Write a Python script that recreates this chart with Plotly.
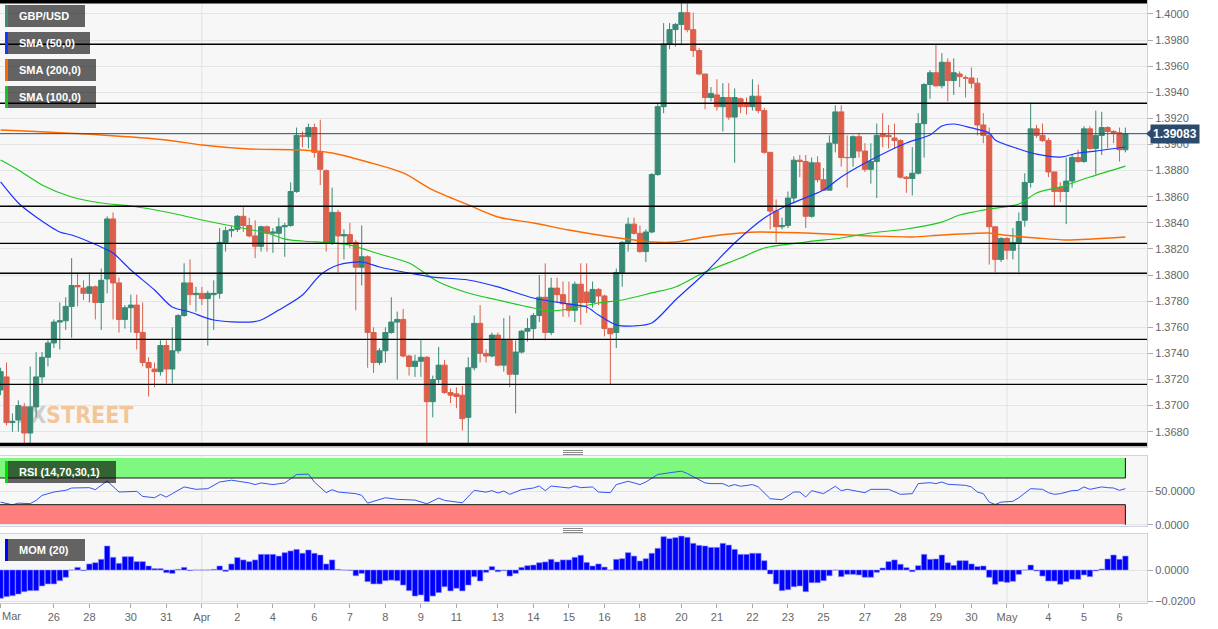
import plotly.graph_objects as go
from plotly.subplots import make_subplots

# ---------------- data (4-hour candles, index = candle number) ----------------
open_ = [1.3712,1.3722,1.3687,1.3689,1.3699,1.3679,1.3699,1.3722,1.3737,1.3748,
1.3764,1.3765,1.3776,1.3792,1.3790,1.3786,1.3791,1.3779,1.3797,1.3843,
1.3794,1.3766,1.3775,1.3777,1.3756,1.3733,1.3728,1.3726,1.3746,1.3728,
1.3742,1.3769,1.3794,1.3785,1.3786,1.3782,1.3785,1.3786,1.3825,1.3834,
1.3835,1.3845,1.3838,1.3830,1.3822,1.3837,1.3832,1.3832,1.3837,1.3838,
1.3864,1.3907,1.3906,1.3913,1.3894,1.3880,1.3825,1.3848,1.3830,1.3831,
1.3825,1.3806,1.3814,1.3756,1.3733,1.3742,1.3756,1.3764,1.3766,1.3738,
1.3730,1.3734,1.3737,1.3703,1.3720,1.3731,1.3710,1.3709,1.3708,1.3691,
1.3729,1.3763,1.3740,1.3738,1.3754,1.3731,1.3750,1.3724,1.3741,1.3757,
1.3759,1.3769,1.3783,1.3756,1.3790,1.3785,1.3778,1.3773,1.3793,1.3787,
1.3779,1.3789,1.3784,1.3759,1.3756,1.3802,1.3825,1.3839,1.3832,1.3818,
1.3833,1.3877,1.3929,1.3977,1.3988,1.3992,1.4001,1.3988,1.3972,1.3954,
1.3936,1.3938,1.3929,1.3936,1.3921,1.3935,1.3932,1.3929,1.3937,1.3926,
1.3894,1.3849,1.3837,1.3838,1.3859,1.3888,1.3887,1.3845,1.3886,1.3873,
1.3865,1.3901,1.3925,1.3890,1.3890,1.3906,1.3895,1.3881,1.3887,1.3908,
1.3907,1.3905,1.3903,1.3875,1.3874,1.3878,1.3916,1.3946,1.3955,1.3945,
1.3963,1.3949,1.3954,1.3951,1.3951,1.3947,1.3915,1.3907,1.3837,1.3812,
1.3828,1.3819,1.3825,1.3842,1.3871,1.3912,1.3907,1.3903,1.3879,1.3867,
1.3864,1.3872,1.3890,1.3887,1.3912,1.3897,1.3907,1.3913,1.3910,1.3909,
1.3896]

high = [1.3729,1.3733,1.3694,1.3704,1.3702,1.3730,1.3741,1.3741,1.3750,1.3766,
1.3779,1.3783,1.3813,1.3802,1.3796,1.3802,1.3792,1.3805,1.3845,1.3848,
1.3798,1.3777,1.3785,1.3785,1.3779,1.3737,1.3733,1.3750,1.3750,1.3760,
1.3770,1.3809,1.3812,1.3791,1.3791,1.3788,1.3796,1.3836,1.3837,1.3838,
1.3846,1.3852,1.3844,1.3842,1.3838,1.3838,1.3836,1.3844,1.3840,1.3871,
1.3913,1.3910,1.3916,1.3916,1.3919,1.3881,1.3867,1.3850,1.3835,1.3840,
1.3827,1.3838,1.3815,1.3760,1.3744,1.3760,1.3783,1.3772,1.3774,1.3739,
1.3739,1.3751,1.3738,1.3723,1.3745,1.3735,1.3713,1.3714,1.3715,1.3737,
1.3769,1.3777,1.3743,1.3756,1.3756,1.3767,1.3769,1.3750,1.3758,1.3767,
1.3771,1.3800,1.3809,1.3798,1.3798,1.3795,1.3795,1.3795,1.3809,1.3809,
1.3795,1.3790,1.3785,1.3759,1.3805,1.3826,1.3844,1.3844,1.3838,1.3835,
1.3878,1.3931,1.3993,1.3993,1.3993,1.4009,1.4008,1.4001,1.3974,1.3954,
1.3944,1.3950,1.3947,1.3947,1.3943,1.3936,1.3936,1.3950,1.3946,1.3928,
1.3894,1.3858,1.3844,1.3864,1.3891,1.3892,1.3892,1.3890,1.3891,1.3882,
1.3907,1.3930,1.3930,1.3907,1.3907,1.3909,1.3901,1.3901,1.3916,1.3924,
1.3915,1.3916,1.3904,1.3876,1.3898,1.3924,1.3947,1.3957,1.3977,1.3970,
1.3966,1.3966,1.3956,1.3953,1.3959,1.3951,1.3924,1.3913,1.3837,1.3829,
1.3829,1.3836,1.3848,1.3878,1.3932,1.3915,1.3916,1.3905,1.3879,1.3871,
1.3890,1.3892,1.3896,1.3914,1.3914,1.3926,1.3925,1.3914,1.3911,1.3913,
1.3913]

low = [1.3708,1.3685,1.3680,1.3680,1.3671,1.3671,1.3691,1.3717,1.3730,1.3744,
1.3743,1.3758,1.3752,1.3776,1.3781,1.3779,1.3766,1.3758,1.3786,1.3766,
1.3756,1.3759,1.3756,1.3743,1.3730,1.3707,1.3714,1.3723,1.3717,1.3717,
1.3740,1.3768,1.3777,1.3772,1.3777,1.3746,1.3758,1.3782,1.3818,1.3829,
1.3833,1.3833,1.3829,1.3813,1.3818,1.3818,1.3817,1.3825,1.3814,1.3837,
1.3863,1.3898,1.3897,1.3890,1.3869,1.3818,1.3823,1.3802,1.3812,1.3821,
1.3773,1.3792,1.3729,1.3725,1.3731,1.3733,1.3755,1.3720,1.3737,1.3723,
1.3722,1.3722,1.3671,1.3691,1.3717,1.3709,1.3702,1.3698,1.3681,1.3671,
1.3727,1.3733,1.3733,1.3737,1.3730,1.3726,1.3714,1.3694,1.3740,1.3749,
1.3750,1.3764,1.3750,1.3754,1.3779,1.3768,1.3768,1.3764,1.3762,1.3771,
1.3775,1.3777,1.3753,1.3716,1.3744,1.3791,1.3818,1.3831,1.3817,1.3810,
1.3832,1.3876,1.3924,1.3973,1.3975,1.3976,1.3986,1.3967,1.3953,1.3927,
1.3933,1.3926,1.3910,1.3919,1.3886,1.3924,1.3923,1.3926,1.3924,1.3893,
1.3835,1.3825,1.3835,1.3836,1.3855,1.3875,1.3836,1.3844,1.3871,1.3865,
1.3865,1.3894,1.3883,1.3867,1.3883,1.3890,1.3879,1.3870,1.3859,1.3898,
1.3897,1.3897,1.3874,1.3863,1.3861,1.3877,1.3890,1.3935,1.3944,1.3943,
1.3933,1.3938,1.3944,1.3936,1.3943,1.3907,1.3901,1.3808,1.3802,1.3810,
1.3812,1.3812,1.3802,1.3837,1.3867,1.3905,1.3902,1.3875,1.3852,1.3856,
1.3839,1.3867,1.3886,1.3886,1.3896,1.3877,1.3892,1.3897,1.3901,1.3887,
1.3894]

close = [1.3726,1.3687,1.3688,1.3700,1.3679,1.3699,1.3722,1.3737,1.3748,1.3764,
1.3765,1.3776,1.3792,1.3791,1.3786,1.3791,1.3779,1.3796,1.3843,1.3794,
1.3766,1.3775,1.3777,1.3756,1.3733,1.3729,1.3726,1.3746,1.3728,1.3742,
1.3769,1.3794,1.3785,1.3786,1.3782,1.3786,1.3786,1.3825,1.3834,1.3835,
1.3845,1.3838,1.3830,1.3822,1.3837,1.3832,1.3833,1.3837,1.3838,1.3864,
1.3907,1.3906,1.3913,1.3894,1.3881,1.3825,1.3848,1.3830,1.3831,1.3825,
1.3806,1.3814,1.3756,1.3733,1.3742,1.3756,1.3764,1.3766,1.3738,1.3730,
1.3734,1.3737,1.3703,1.3720,1.3731,1.3710,1.3708,1.3707,1.3690,1.3729,
1.3763,1.3740,1.3738,1.3754,1.3731,1.3750,1.3724,1.3741,1.3757,1.3759,
1.3769,1.3783,1.3756,1.3790,1.3785,1.3778,1.3773,1.3793,1.3779,1.3779,
1.3789,1.3784,1.3759,1.3755,1.3802,1.3825,1.3839,1.3832,1.3818,1.3833,
1.3877,1.3929,1.3977,1.3988,1.3992,1.4001,1.3988,1.3972,1.3954,1.3936,
1.3939,1.3929,1.3936,1.3921,1.3936,1.3929,1.3929,1.3937,1.3926,1.3894,
1.3849,1.3837,1.3838,1.3859,1.3888,1.3887,1.3845,1.3886,1.3873,1.3865,
1.3901,1.3925,1.3890,1.3890,1.3906,1.3895,1.3881,1.3887,1.3907,1.3906,
1.3906,1.3903,1.3875,1.3874,1.3878,1.3916,1.3946,1.3955,1.3945,1.3963,
1.3949,1.3955,1.3952,1.3951,1.3947,1.3915,1.3907,1.3837,1.3812,1.3828,
1.3819,1.3825,1.3841,1.3871,1.3912,1.3907,1.3903,1.3879,1.3864,1.3864,
1.3872,1.3890,1.3887,1.3912,1.3897,1.3907,1.3913,1.3910,1.3909,1.3896,
1.39083]

sma50_idx = [0,3,6,10,12,17,19,22,26,29,32,36,42,44,47,51,54,57,61,64,69,73,79,84,90,96,99,101,104,107,
             110,114,119,124,129,133,139,142,147,153,157,159,161,164,167,168,172,175,179,182,185,190]
sma50 = [1.38713,1.38552,1.38445,1.38330,1.38307,1.38215,1.38169,1.38039,1.37886,1.37755,1.37717,1.37656,
         1.37640,1.37656,1.37732,1.37847,1.38001,1.38077,1.38100,1.38062,1.38016,1.37985,1.37962,1.37909,
         1.37824,1.37778,1.37755,1.37694,1.37618,1.37610,1.37633,1.37809,1.38016,1.38246,1.38437,1.38537,
         1.38652,1.38751,1.38881,1.39012,1.39073,1.39142,1.39157,1.39127,1.39088,1.39035,1.38966,1.38927,
         1.38904,1.38935,1.38950,1.38981]

sma100_idx = [0,3,7,12,17,22,28,34,39,45,48,51,59,64,69,74,79,84,90,93,97,101,105,110,114,119,125,129,
              136,142,147,153,159,162,167,172,175,179,184,190]
sma100 = [1.38881,1.38805,1.38690,1.38598,1.38552,1.38529,1.38483,1.38422,1.38376,1.38322,1.38276,1.38261,
          1.38230,1.38161,1.38092,1.37947,1.37863,1.37809,1.37748,1.37725,1.37748,1.37786,1.37809,1.37863,
          1.37909,1.38023,1.38131,1.38207,1.38253,1.38284,1.38322,1.38353,1.38406,1.38460,1.38506,1.38544,
          1.38629,1.38675,1.38751,1.38835]

sma200_idx = [0,17,28,34,42,51,56,62,68,73,79,84,90,96,101,107,110,114,119,125,128,136,147,154,159,167,
              168,175,180,190]
sma200 = [1.39111,1.39073,1.39035,1.38996,1.38966,1.38958,1.38935,1.38866,1.38782,1.38652,1.38537,1.38445,
          1.38399,1.38345,1.38307,1.38269,1.38253,1.38253,1.38292,1.38322,1.38330,1.38322,1.38299,1.38292,
          1.38307,1.38322,1.38315,1.38284,1.38269,1.38292]

rsi_idx = [0,2,3,5,6,7,9,11,12,15,16,18,20,21,23,24,26,27,28,29,31,33,35,37,39,42,43,44,46,48,50,52,53,55,
           56,57,60,61,62,65,67,70,72,74,75,78,80,82,83,84,85,86,88,90,91,92,93,96,97,98,100,101,103,104,
           106,108,109,111,113,115,116,117,119,120,122,123,124,125,127,128,130,132,134,135,136,137,139,141,
           142,143,146,147,150,152,154,155,157,158,159,160,163,164,165,166,167,168,169,171,172,174,176,177,
           178,179,181,182,183,184,186,187,188,189,190]
rsi = [33.8,29.8,32.3,31.5,36.4,43.9,49,51.5,55,55.5,52.5,65.6,49,49,50,42.4,40.4,45.5,41.4,46.5,56.6,53,
       54,64,66.7,62.6,60.1,62.6,60.1,62.6,75.3,75.8,64,48,52.5,49,46.5,44,32.3,40.4,38,36.9,31.3,39.9,
       36.4,32.8,51.5,48.8,51,47.5,50.5,45.5,52.5,55,58,51,58,55,58,55.5,56.6,49,48,60.1,65.1,60.1,64,
       75.3,78.3,80.3,76.8,71.7,62.6,61.6,61.6,57.6,60.1,57.6,60.1,56.6,38.9,37.4,49,49,41.4,51,46.5,57.6,
       51,53,48,53,53,45.5,46.5,61.6,63,61.6,64,60.6,59,56.6,49,46.5,33.8,30.3,33.8,35,40.4,54,53,48,
       45.5,46.5,51,51.5,56.6,53,56.6,55.5,55,51.5,54]

mom = [-0.0183,-0.0172,-0.0166,-0.0155,-0.0140,-0.0133,-0.0133,-0.0103,-0.0090,-0.0090,
-0.0069,-0.0047,0.0000,0.0017,-0.0004,0.0039,0.0047,0.0069,0.0155,0.0082,
0.0043,0.0086,0.0086,0.0054,0.0054,0.0026,0.0009,0.0009,-0.0017,-0.0022,
0.0004,0.0017,-0.0004,0.0000,0.0000,0.0000,0.0004,0.0026,-0.0009,0.0039,
0.0080,0.0065,0.0054,0.0065,0.0101,0.0101,0.0101,0.0090,0.0112,0.0123,
0.0133,0.0108,0.0129,0.0108,0.0097,0.0039,0.0065,0.0004,0.0000,-0.0002,
-0.0037,-0.0022,-0.0075,-0.0090,-0.0090,-0.0069,-0.0065,-0.0069,-0.0097,-0.0133,
-0.0168,-0.0161,-0.0204,-0.0168,-0.0146,-0.0108,-0.0135,-0.0118,-0.0135,-0.0097,
-0.0043,-0.0071,-0.0015,0.0022,-0.0011,-0.0004,-0.0039,-0.0022,0.0017,0.0028,
0.0032,0.0047,0.0052,0.0069,0.0052,0.0065,0.0065,0.0082,0.0095,0.0049,
0.0026,0.0039,0.0019,0.0000,0.0069,0.0073,0.0112,0.0090,0.0058,0.0073,
0.0108,0.0140,0.0215,0.0202,0.0209,0.0219,0.0211,0.0172,0.0159,0.0155,
0.0146,0.0146,0.0172,0.0161,0.0133,0.0101,0.0101,0.0108,0.0108,0.0060,
-0.0026,-0.0090,-0.0133,-0.0127,-0.0108,-0.0103,-0.0140,-0.0082,-0.0082,-0.0069,
-0.0037,0.0000,-0.0043,-0.0028,-0.0028,-0.0032,-0.0047,-0.0047,-0.0015,0.0013,
0.0054,0.0065,0.0037,0.0015,-0.0011,0.0028,0.0101,0.0069,0.0071,0.0097,
0.0047,0.0030,0.0060,0.0060,0.0039,0.0022,0.0026,-0.0047,-0.0092,-0.0075,
-0.0080,-0.0073,-0.0028,0.0000,0.0032,-0.0006,-0.0039,-0.0071,-0.0071,-0.0092,
-0.0075,-0.0060,-0.0060,-0.0032,-0.0043,-0.0006,0.0006,0.0071,0.0097,0.0069,
0.0090]

levels = [1.39768, 1.39316, 1.38527, 1.38243, 1.38014, 1.37508, 1.37163]
edge_levels = [1.40094, 1.36702]
last_price = 1.39083

first_label = 'Mar'
tick_vals = [0, 9, 15, 22, 28, 34, 40, 46, 53, 59, 65, 71, 77, 84, 90, 96, 102, 108, 115, 121,
             127, 133, 139, 146, 152, 158, 164, 170, 177, 183, 189]
tick_text = ['','26','28','30','31','Apr','2','4','6','7','8','9','11','13','14','15','16','18','20',
             '21','22','23','25','27','28','29','30','May','4','5','6']
month_starts = [34, 170]
price_ticks = [1.368 + 0.002 * k for k in range(17)]

# ---------------- geometry helpers (pixel -> paper) ----------------
PW, PH = 1147.0, 603.0
def px(x): return x / PW
def py(y): return 1 - y / PH

idx = list(range(len(close)))
XR = [-0.1, 193.65]

fig = make_subplots(rows=3, cols=1, shared_xaxes=True, vertical_spacing=0.02)

fig.add_trace(go.Candlestick(
    x=idx, open=open_, high=high, low=low, close=close,
    increasing=dict(line=dict(color='#388a76', width=1), fillcolor='#388a76'),
    decreasing=dict(line=dict(color='#db5f4b', width=1), fillcolor='#db5f4b'),
    whiskerwidth=0, hoverinfo='skip'), row=1, col=1)

fig.add_trace(go.Scatter(x=sma200_idx, y=sma200, mode='lines',
                         line=dict(color='#ff6a00', width=1.4, shape='spline', smoothing=0.8)), row=1, col=1)
fig.add_trace(go.Scatter(x=sma100_idx, y=sma100, mode='lines',
                         line=dict(color='#1ec81e', width=1.2, shape='spline', smoothing=0.8)), row=1, col=1)
fig.add_trace(go.Scatter(x=sma50_idx, y=sma50, mode='lines',
                         line=dict(color='#1a35ff', width=1.2, shape='spline', smoothing=0.8)), row=1, col=1)

fig.add_trace(go.Scatter(x=rsi_idx, y=rsi, mode='lines',
                         line=dict(color='#3455f0', width=1)), row=2, col=1)

fig.add_trace(go.Bar(x=idx, y=mom, width=0.92, marker=dict(color='#0000ff',
                     line=dict(color='#8c8cff', width=0.6))), row=3, col=1)

axis_line = '#cdd3e2'
fnt = dict(family='Arial, Liberation Sans, sans-serif', size=11, color='#666666')

fig.update_layout(
    width=1218, height=629, margin=dict(l=0, r=71, t=0, b=26),
    paper_bgcolor='white', plot_bgcolor='#f7f7f7', showlegend=False,
    font=fnt, boxgap=0.14, boxgroupgap=0, bargap=0,
)

for ax in ['xaxis', 'xaxis2', 'xaxis3']:
    fig.layout[ax].update(range=XR, showgrid=False, zeroline=False, showline=True,
                          linecolor=axis_line, mirror=True, rangeslider=dict(visible=False),
                          fixedrange=True)
fig.layout.xaxis3.update(tickmode='array', tickvals=tick_vals, ticktext=tick_text,
                         ticks='outside', ticklen=4, tickcolor='#aaaaaa', tickfont=fnt)

fig.layout.yaxis.update(domain=[py(447), 1], range=[1.36683, 1.40107], side='right',
                        tickmode='array', tickvals=price_ticks, tickformat='.4f',
                        gridcolor='#e4e4e4', zeroline=False, showline=True, linecolor=axis_line,
                        mirror=True, ticks='outside', ticklen=5, tickcolor='#aaaaaa', tickfont=fnt,
                        fixedrange=True)
fig.layout.yaxis2.update(domain=[py(526), py(456)], range=[-2, 103], side='right',
                         tickmode='array', tickvals=[0, 50], ticktext=['0.0000', '50.0000'],
                         gridcolor='#e4e4e4', zeroline=False, showline=True, linecolor=axis_line,
                         mirror=True, ticks='outside', ticklen=5, tickcolor='#aaaaaa', tickfont=fnt,
                         fixedrange=True)
fig.layout.yaxis3.update(domain=[0, py(534)], range=[-0.02129, 0.02323], side='right',
                         tickmode='array', tickvals=[-0.02, 0], tickformat='.4f',
                         gridcolor='#e4e4e4', zeroline=False, showline=True, linecolor=axis_line,
                         mirror=True, ticks='outside', ticklen=5, tickcolor='#aaaaaa', tickfont=fnt,
                         fixedrange=True)

shapes = []
# month vertical gridlines
for m in month_starts:
    for yd in ['y domain', 'y2 domain', 'y3 domain']:
        shapes.append(dict(type='line', xref='x', yref=yd, x0=m, x1=m, y0=0, y1=1,
                           line=dict(color='#e2e2e2', width=1), layer='below'))
# RSI bands
band_end = idx[-1]
shapes.append(dict(type='rect', xref='x', yref='y2', x0=XR[0], x1=band_end, y0=70, y1=100,
                   fillcolor='#7ff87f', line=dict(width=0), layer='below'))
shapes.append(dict(type='rect', xref='x', yref='y2', x0=XR[0], x1=band_end, y0=0, y1=30,
                   fillcolor='#ff7e7e', line=dict(width=0), layer='below'))
for lv in [70, 30]:
    shapes.append(dict(type='line', xref='x', yref='y2', x0=XR[0], x1=band_end, y0=lv, y1=lv,
                       line=dict(color='#1a1f1a', width=1)))
shapes.append(dict(type='line', xref='x', yref='y2', x0=band_end, x1=band_end, y0=70, y1=100,
                   line=dict(color='#111111', width=1)))
shapes.append(dict(type='line', xref='x', yref='y2', x0=band_end, x1=band_end, y0=0, y1=30,
                   line=dict(color='#111111', width=1)))
# price levels
for lv in levels:
    shapes.append(dict(type='line', xref='paper', yref='y', x0=0, x1=1, y0=lv, y1=lv,
                       line=dict(color='#000000', width=1.3)))
for lv in edge_levels:
    shapes.append(dict(type='line', xref='paper', yref='y', x0=0, x1=1, y0=lv, y1=lv,
                       line=dict(color='#000000', width=3.5)))
shapes.append(dict(type='line', xref='paper', yref='y', x0=0, x1=1, y0=last_price, y1=last_price,
                   line=dict(color='#2c4a6c', width=1)))
# price tag arrow
shapes.append(dict(type='path', xref='paper', yref='y',
                   path=f'M {px(1151)},{last_price + 0.00033} L {px(1146)},{last_price} L {px(1151)},{last_price - 0.00033} Z',
                   fillcolor='#2c4a6c', line=dict(width=0)))
# panel grips
for ys in [(450.5, 452.5, 454.5), (528.5, 530.5, 532.5)]:
    for yy in ys:
        shapes.append(dict(type='line', xref='paper', yref='paper', x0=px(563), x1=px(583),
                           y0=py(yy), y1=py(yy), line=dict(color='#8a8a8a', width=1)))

annotations = []
legend_boxes = [
    ('GBP/USD', 5, 85, 5, 27, '#3d8a78'),
    ('SMA (50,0)', 5, 90, 32, 54, '#1a35ff'),
    ('SMA (200,0)', 5, 96, 59, 81, '#ff6a00'),
    ('SMA (100,0)', 5, 96, 86, 108, '#18c818'),
    ('RSI (14,70,30,1)', 5, 116, 461, 483, '#00e000'),
    ('MOM (20)', 5, 85, 539, 561, '#0000ff'),
]
for text, x0, x1, y0, y1, col in legend_boxes:
    shapes.append(dict(type='rect', xref='paper', yref='paper', x0=px(x0), x1=px(x1),
                       y0=py(y1), y1=py(y0), fillcolor='rgba(0,0,0,0.6)', line=dict(width=0)))
    shapes.append(dict(type='rect', xref='paper', yref='paper', x0=px(x0), x1=px(x0 + 3),
                       y0=py(y1), y1=py(y0), fillcolor=col, line=dict(width=0)))
    annotations.append(dict(xref='paper', yref='paper', x=px(17), y=py((y0 + y1) / 2),
                            xanchor='left', yanchor='middle', showarrow=False, text=f'<b>{text}</b>',
                            font=dict(family='Arial, Liberation Sans, sans-serif', size=11, color='white')))

annotations.append(dict(xref='paper', yref='y', x=px(1150), y=last_price, xanchor='left', yanchor='middle',
                        showarrow=False, text=f'<b>{last_price:.5f}</b>', bgcolor='#2c4a6c', borderpad=2,
                        font=dict(family='Arial, Liberation Sans, sans-serif', size=12, color='white')))

# first (partly cut) month label at the left edge of the time axis
annotations.append(dict(xref='paper', yref='paper', x=0, y=py(616), xanchor='left', yanchor='middle',
                        showarrow=False, text=first_label, font=fnt))

annotations.append(dict(xref='paper', yref='paper', x=px(14), y=py(415), xanchor='left', yanchor='middle',
                        showarrow=False,
                        text="<b><span style='color:rgba(130,130,130,0.6)'>FX</span>STREET</b>",
                        font=dict(family='Liberation Sans Narrow, DejaVu Sans Condensed, Arial Narrow, sans-serif',
                                  size=23, color='rgba(240,165,90,0.6)')))

fig.update_layout(shapes=shapes, annotations=annotations)

fig.write_html('out.html', config={'displayModeBar': False, 'staticPlot': True},
               post_script="document.body.style.margin='0px';")
